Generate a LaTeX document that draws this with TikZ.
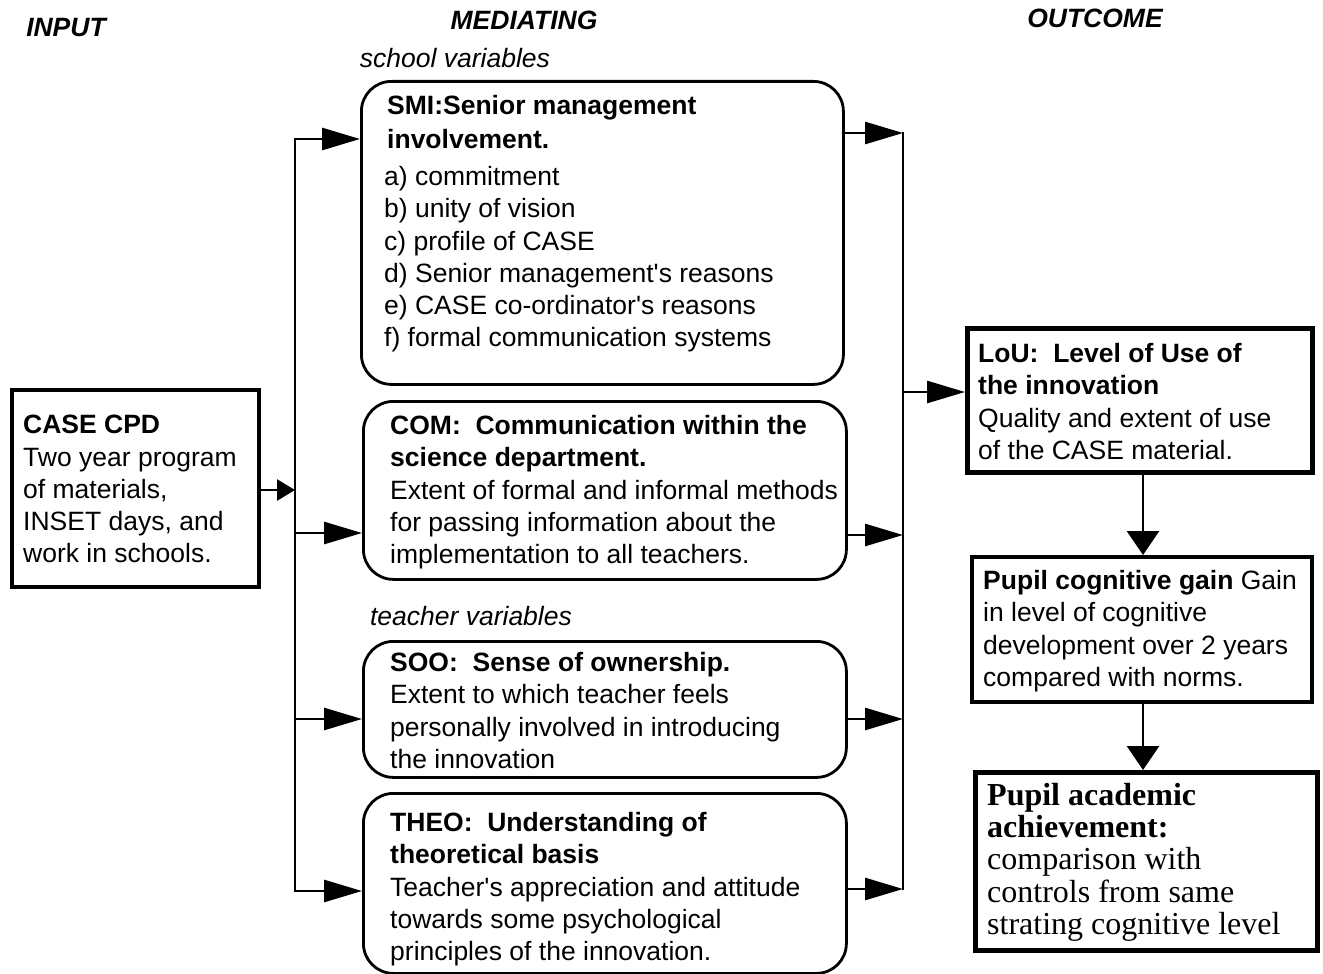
\documentclass[tikz,border=0pt]{standalone}
\usepackage{fontspec}
\setmainfont{Liberation Sans}
\newfontfamily\seriffam{Liberation Serif}
\usetikzlibrary{arrows.meta,calc}
\font\apsfont="Liberation Sans" at 26.5pt
\newcommand{\sq}{{\apsfont\char39}}
\begin{document}
\begin{tikzpicture}[x=1pt,y=-1pt,
  rbox/.style={draw,line width=2.8pt,rounded corners=30pt,anchor=north west,inner sep=0pt},
  sbox/.style={draw,anchor=north west,inner sep=0pt},
  txt/.style={anchor=north west,inner sep=0pt,align=left,font=\fontsize{26.5}{32.3}\selectfont},
  head/.style={inner sep=0pt,font=\fontsize{26.5}{32}\selectfont\bfseries\itshape},
  sub/.style={inner sep=0pt,font=\fontsize{26.5}{32}\selectfont\itshape},
  ln/.style={line width=2.8pt,line cap=rect},
  arr/.style={line width=2.8pt,-{Triangle[length=38pt,width=22pt]}},
  arrs/.style={line width=2.8pt,-{Triangle[length=18pt,width=21pt]}},
  arrd/.style={line width=2.8pt,-{Triangle[length=24pt,width=32pt]}},
]
\useasboundingbox (0,0) rectangle (1323,974);

% headings
\node[head] (hin) at (66,28) {INPUT};
\node[head] (hmed) at (524,20) {MEDIATING};
\node[head] (hout) at (1095,18) {OUTCOME};
\node[sub] (ssch) at (455,58) {school variables};
\node[sub] (stea) at (471,616) {teacher variables};

% boxes
\node[sbox,line width=3.5pt,minimum width=247pt,minimum height=197pt] (case) at (10,388) {};
\node[rbox,minimum width=482pt,minimum height=303pt] (smi) at (360,80) {};
\node[rbox,minimum width=483pt,minimum height=178pt] (com) at (362,400) {};
\node[rbox,minimum width=483pt,minimum height=136pt] (soo) at (362,640) {};
\node[rbox,minimum width=483pt,minimum height=180pt] (theo) at (362,792) {};
\node[sbox,line width=4.5pt,minimum width=345pt,minimum height=144pt] (lou) at (965,326) {};
\node[sbox,line width=3.5pt,minimum width=340pt,minimum height=145pt] (cog) at (970,555) {};
\node[sbox,line width=4.5pt,minimum width=342pt,minimum height=178pt] (acad) at (973,770) {};

% texts
\node[txt] (tcase) at (23,415) {\textbf{CASE CPD}\\Two year program\\of materials,\\INSET days, and\\work in schools.};
\node[txt] (tsmih) at (387,95) {\textbf{SMI:Senior management}\\[1.5pt]\textbf{involvement.}};
\node[txt] (tsmii) at (384,166) {a) commitment\\b) unity of vision\\c) profile of CASE\\d) Senior management\sq s reasons\\e) CASE co-ordinator\sq s reasons\\f) formal communication systems};
\node[txt] (tcom) at (390,415) {\textbf{COM:\ \ Communication within the}\\\textbf{science department.}\\Extent of formal and informal methods\\for passing information about the\\implementation to all teachers.};
\node[txt] (tsoo) at (390,652) {\textbf{SOO:\ \ Sense of ownership.}\\Extent to which teacher feels\\personally involved in introducing\\the innovation};
\node[txt] (ttheo) at (390,812) {\textbf{THEO:\ \ Understanding of}\\\textbf{theoretical basis}\\Teacher\sq s appreciation and attitude\\towards some psychological\\principles of the innovation.};
\node[txt] (tlou) at (978,343) {\textbf{LoU:\ \ Level of Use of}\\\textbf{the innovation}\\Quality and extent of use\\of the CASE material.};
\node[txt] (tcog) at (983,570) {\textbf{Pupil cognitive gain} Gain\\in level of cognitive\\development over 2 years\\compared with norms.};
\node[txt,font=\seriffam\fontsize{32}{32.2}\selectfont] (tacad) at (987,783) {\textbf{Pupil academic}\\\textbf{achievement:}\\comparison with\\controls from same\\strating cognitive level};

% left bracket
\coordinate (C) at (295,490);
\coordinate (L1) at (295,139);
\coordinate (L2) at (295,533);
\coordinate (L3) at (295,719);
\coordinate (L4) at (295,891);
\draw[arrs] (C -| case.east) -- (C);
\draw[ln] (L1) -- (L4);
\draw[arr] (L1) -- (L1 -| smi.west);
\draw[arr] (L2) -- (L2 -| com.west);
\draw[arr] (L3) -- (L3 -| soo.west);
\draw[arr] (L4) -- (L4 -| theo.west);

% right bracket
\coordinate (R1) at (903,133);
\coordinate (R2) at (903,535);
\coordinate (R3) at (903,719);
\coordinate (R4) at (903,889);
\coordinate (RM) at (903,392);
\draw[ln] (R1) -- (R4);
\draw[arr] (R1 -| smi.east) -- (R1);
\draw[arr] (R2 -| com.east) -- (R2);
\draw[arr] (R3 -| soo.east) -- (R3);
\draw[arr] (R4 -| theo.east) -- (R4);
\draw[arr] (RM) -- (RM -| lou.west);

% outcome chain
\coordinate (D) at (1143,0);
\draw[arrd] (lou.south -| D) -- (cog.north -| D);
\draw[arrd] (cog.south -| D) -- (acad.north -| D);
\end{tikzpicture}
\end{document}
